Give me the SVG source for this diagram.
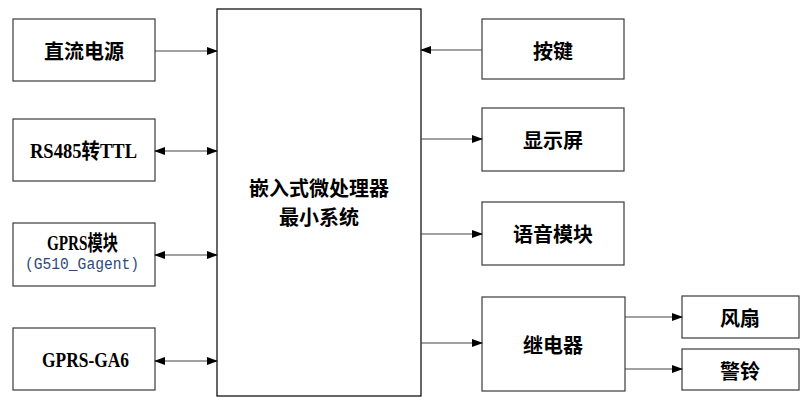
<svg xmlns="http://www.w3.org/2000/svg" width="807" height="401" viewBox="0 0 807 401">
<style>
.box{fill:#fff;stroke:#3a3a3a;stroke-width:1.2}
.main{fill:#fff;stroke:#000;stroke-width:1.2}
.t{font-family:"Noto Sans CJK SC","Noto Sans CJK TC",sans-serif;font-weight:bold;font-size:20px;fill:#000;text-anchor:middle;dominant-baseline:central}
.s{font-family:"Liberation Serif","Noto Sans CJK SC",serif;font-weight:bold;font-size:21px;fill:#000;dominant-baseline:central}
.m{font-family:"Liberation Mono","Noto Sans CJK SC",monospace;font-size:16px;dominant-baseline:central}
.c{stroke:#444;stroke-width:1.2;fill:none}
</style>
<defs>
<marker id="ah" markerUnits="userSpaceOnUse" markerWidth="11" markerHeight="8" refX="10" refY="4" orient="auto-start-reverse" viewBox="0 0 11 8">
<path d="M0,0 L11,4 L0,8 z" fill="#000"/>
</marker>
</defs>
<g id="main"><rect class="main" x="217" y="9" width="204" height="387"/>
<text class="t" x="319" y="187">嵌入式微处理器</text>
<text class="t" x="319" y="216">最小系统</text></g>
<g id="dc"><rect class="box" x="13" y="19" width="142" height="62"/><text class="t" x="84" y="50">直流电源</text></g>
<g id="rs485"><rect class="box" x="13" y="119" width="142" height="62"/>
<text class="s" x="30" y="151" textLength="107" lengthAdjust="spacingAndGlyphs">RS485转TTL</text></g>
<g id="gprs"><rect class="box" x="13" y="223" width="142" height="63"/>
<text class="s" x="47" y="243" font-size="17" textLength="71" lengthAdjust="spacingAndGlyphs">GPRS模块</text>
<text class="m" x="25" y="265" fill="#2e4a7a" textLength="114" lengthAdjust="spacingAndGlyphs">(G510_Gagent)</text></g>
<g id="ga6"><rect class="box" x="13" y="328" width="142" height="62"/><text class="s" x="42" y="360" textLength="87" lengthAdjust="spacingAndGlyphs">GPRS-GA6</text></g>
<g id="key"><rect class="box" x="482" y="19" width="142" height="60"/><text class="t" x="553" y="50">按键</text></g>
<g id="disp"><rect class="box" x="482" y="108" width="142" height="63"/><text class="t" x="553" y="139">显示屏</text></g>
<g id="voice"><rect class="box" x="482" y="202" width="142" height="63"/><text class="t" x="553" y="233">语音模块</text></g>
<g id="relay"><rect class="box" x="482" y="297" width="143" height="94"/><text class="t" x="553" y="344">继电器</text></g>
<g id="fan"><rect class="box" x="682" y="296" width="117" height="42"/><text class="t" x="740" y="317">风扇</text></g>
<g id="alarm"><rect class="box" x="682" y="349" width="117" height="41"/><text class="t" x="740" y="370">警铃</text></g>
<g id="connectors">
<line class="c" x1="155" y1="51" x2="217" y2="51" marker-end="url(#ah)"/>
<line class="c" x1="155" y1="151" x2="217" y2="151" marker-start="url(#ah)" marker-end="url(#ah)"/>
<line class="c" x1="155" y1="255" x2="217" y2="255" marker-start="url(#ah)" marker-end="url(#ah)"/>
<line class="c" x1="155" y1="361" x2="217" y2="361" marker-start="url(#ah)" marker-end="url(#ah)"/>
<line class="c" x1="482" y1="50" x2="421" y2="50" marker-end="url(#ah)"/>
<line class="c" x1="421" y1="139" x2="482" y2="139" marker-end="url(#ah)"/>
<line class="c" x1="421" y1="234" x2="482" y2="234" marker-end="url(#ah)"/>
<line class="c" x1="421" y1="343" x2="482" y2="343" marker-end="url(#ah)"/>
<line class="c" x1="625" y1="317" x2="682" y2="317" marker-end="url(#ah)"/>
<line class="c" x1="625" y1="369" x2="682" y2="369" marker-end="url(#ah)"/>
</g>
</svg>
